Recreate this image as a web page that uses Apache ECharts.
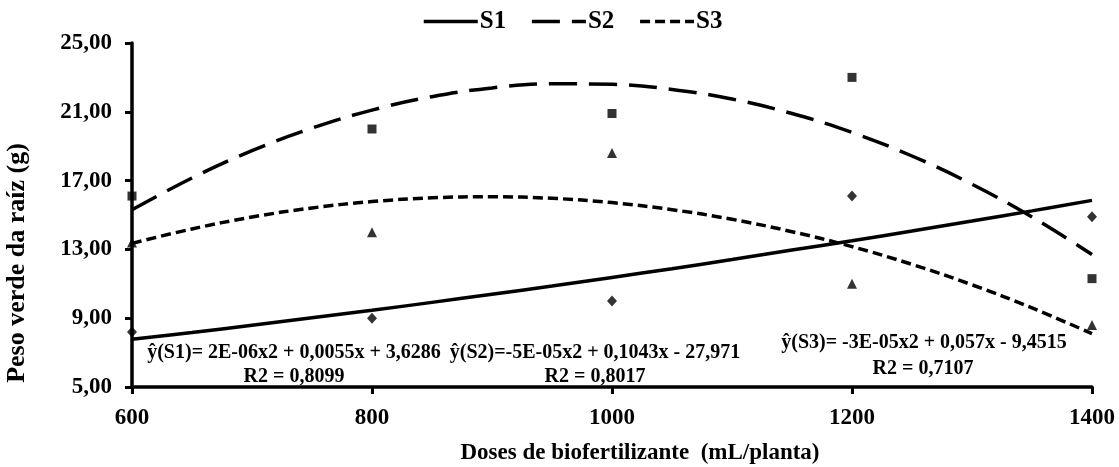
<!DOCTYPE html>
<html>
<head>
<meta charset="utf-8">
<script src="https://cdn.jsdelivr.net/npm/echarts@6/dist/echarts.min.js"></script>
<style>html,body{margin:0;padding:0;background:#fff}#c{width:1119px;height:467px}</style>
</head>
<body>
<div id="c"></div>
<script>
// Observed data (Doses de biofertilizante, mL/planta)
const doses = [600, 800, 1000, 1200, 1400];
const s1 = [8.2, 9.0, 10.0, 16.1, 14.9];
const s2 = [16.1, 20.0, 20.9, 23.0, 11.3];
const s3 = [13.4, 14.0, 18.6, 11.0, 8.6];

// Trend lines (every 50 mL)
const trendX = [600, 650, 700, 750, 800, 850, 900, 950, 1000, 1050, 1100, 1150, 1200, 1250, 1300, 1350, 1400];
const s1Trend = [7.77, 8.17, 8.59, 9.02, 9.46, 9.92, 10.39, 10.87, 11.37, 11.88, 12.41, 12.96, 13.5, 14.07, 14.65, 15.24, 15.85];
const s2Trend = [15.3, 17.15, 18.74, 20.05, 21.1, 21.88, 22.39, 22.63, 22.6, 22.3, 21.74, 20.9, 19.8, 18.43, 16.79, 14.88, 12.7];
const s3Trend = [13.35, 14.19, 14.88, 15.41, 15.78, 16.0, 16.06, 15.97, 15.72, 15.31, 14.75, 14.03, 13.16, 12.13, 10.94, 9.6, 8.1];

const seriesNames = ['S1', 'S2', 'S3'];
const xTicks = [600, 800, 1000, 1200, 1400];
const yTicks = [5, 9, 13, 17, 21, 25];

const eqTexts = [
  ['ŷ(S1)= 2E-06x2 + 0,0055x + 3,6286', 'R2 = 0,8099'],
  ['ŷ(S2)=-5E-05x2 + 0,1043x - 27,971', 'R2 = 0,8017'],
  ['ŷ(S3)= -3E-05x2 + 0,057x - 9,4515', 'R2 = 0,7107']
];

const FONT = 'Liberation Serif';
const pair = (xs, ys) => xs.map((x, i) => [x, ys[i]]);

const chart = echarts.init(document.getElementById('c'), null, {renderer: 'canvas'});

function txt(text, x, y, size, rot) {
  return {
    type: 'text', x: x, y: y, rotation: rot || 0,
    style: {text: text, fill: '#000', font: 'bold ' + size + 'px "' + FONT + '"',
            textAlign: 'center', textVerticalAlign: 'middle'}
  };
}

chart.setOption({
  backgroundColor: '#fff',
  animation: false,
  grid: {left: 132, right: 27, top: 43, bottom: 80},
  legend: {
    data: seriesNames,
    left: 422, top: 9, padding: 0,
    itemWidth: 54, itemHeight: 14, itemGap: 24,
    itemStyle: {opacity: 0},
    lineStyle: {width: 3.5},
    textStyle: {fontFamily: FONT, fontWeight: 'bold', fontSize: 25, color: '#000', padding: [0, 0, 0, -3]}
  },
  xAxis: {
    type: 'value', min: xTicks[0], max: xTicks[xTicks.length - 1], interval: 200,
    axisLine: {lineStyle: {color: '#000', width: 3.5}},
    axisTick: {show: true, length: 7, lineStyle: {color: '#000', width: 3}},
    splitLine: {show: false},
    axisLabel: {color: '#000', fontFamily: FONT, fontWeight: 'bold', fontSize: 23, margin: 20,
      formatter: v => String(v)}
  },
  yAxis: {
    type: 'value', min: yTicks[0], max: yTicks[yTicks.length - 1], interval: 4,
    axisLine: {show: true, lineStyle: {color: '#000', width: 3.5}},
    axisTick: {show: true, length: 7, lineStyle: {color: '#000', width: 3}},
    splitLine: {show: false},
    axisLabel: {color: '#000', fontFamily: FONT, fontWeight: 'bold', fontSize: 23, margin: 20,
      formatter: v => v.toFixed(2).replace('.', ',')}
  },
  graphic: [
    txt('Peso verde da raíz (g)', 17, 263, 26, Math.PI / 2),
    txt('Doses de biofertilizante  (mL/planta)', 640, 453, 23),
    txt(eqTexts[0][0], 294, 353, 20), txt(eqTexts[0][1], 294, 377, 20),
    txt(eqTexts[1][0], 595, 353, 20), txt(eqTexts[1][1], 595, 377, 20),
    txt(eqTexts[2][0], 924, 343, 20), txt(eqTexts[2][1], 923, 369, 20)
  ],
  series: [
    {name: 'S1', type: 'line', data: pair(trendX, s1Trend), smooth: 0.4, symbol: 'none',
     lineStyle: {color: '#000', width: 3.5, type: 'solid'}, itemStyle: {color: '#000'}},
    {name: 'S2', type: 'line', data: pair(trendX, s2Trend), smooth: 0.4, symbol: 'none',
     lineStyle: {color: '#000', width: 3.5, type: [28, 12]}, itemStyle: {color: '#000'}},
    {name: 'S3', type: 'line', data: pair(trendX, s3Trend), smooth: 0.4, symbol: 'none',
     lineStyle: {color: '#000', width: 3.5, type: [10, 5]}, itemStyle: {color: '#000'}},
    {name: 'S1 obs', type: 'scatter', data: pair(doses, s1), symbol: 'diamond', symbolSize: [10, 11],
     itemStyle: {color: '#000'}},
    {name: 'S2 obs', type: 'scatter', data: pair(doses, s2), symbol: 'rect', symbolSize: 9,
     itemStyle: {color: '#000'}},
    {name: 'S3 obs', type: 'scatter', data: pair(doses, s3), symbol: 'triangle', symbolSize: 10,
     itemStyle: {color: '#000'}}
  ]
});
</script>
</body>
</html>
